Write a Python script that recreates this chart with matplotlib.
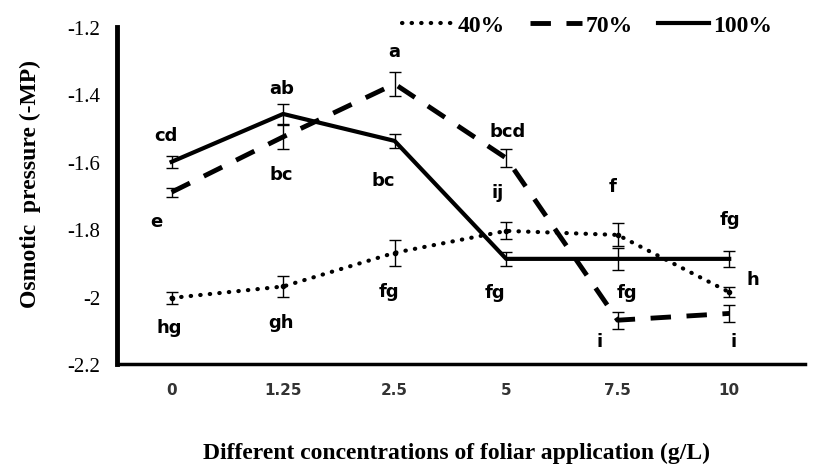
import matplotlib.pyplot as plt

# concentrations (categorical x axis)
conc = ['0', '1.25', '2.5', '5', '7.5', '10']

# osmotic pressure means and error bars
p40 = [-2.004, -1.970, -1.870, -1.805, -1.817, -1.987]
e40 = [0.018, 0.030, 0.039, 0.025, 0.034, 0.015]
p70 = [-1.690, -1.526, -1.369, -1.589, -2.070, -2.050]
e70 = [0.013, 0.035, 0.035, 0.027, 0.025, 0.024]
p100 = [-1.600, -1.458, -1.538, -1.888, -1.888, -1.888]
e100 = [0.018, 0.030, 0.020, 0.021, 0.033, 0.024]

# significance letters (text, x, y in data units)
letters = ['cd', 'e', 'ab', 'bc', 'a', 'bc', 'hg', 'gh', 'fg',
           'bcd', 'ij', 'fg', 'f', 'fg', 'i', 'fg', 'h', 'i']
let_x = [-0.05, -0.14, 0.99, 0.98, 2.0, 1.90, -0.02, 0.98, 1.95,
         3.01, 2.92, 2.90, 3.95, 4.08, 3.84, 5.01, 5.21, 5.04]
let_y = [-1.52, -1.776, -1.381, -1.636, -1.271, -1.654, -2.09, -2.075, -1.983,
         -1.509, -1.69, -1.986, -1.672, -1.986, -2.132, -1.77, -1.948, -2.132]

x = list(range(len(conc)))

fig = plt.figure(figsize=(8.14, 4.77), dpi=100)
ax = fig.add_axes([0.1437, 0.2348, 0.8453, 0.7065])

l40, = ax.plot(x, p40, color='black', lw=3, linestyle=(0, (0.1, 2.2)),
               dash_capstyle='round', zorder=3)
ax.errorbar(x, p40, yerr=e40, fmt='o', ms=3, color='black', ecolor='black',
            elinewidth=1, capsize=4, capthick=1, zorder=4)
l70, = ax.plot(x, p70, color='black', lw=3.5, linestyle=(0, (4.2, 3.2)), zorder=3)
ax.errorbar(x, p70, yerr=e70, fmt='none', ecolor='black',
            elinewidth=1, capsize=4, capthick=1, zorder=4)
l100, = ax.plot(x, p100, color='black', lw=3, zorder=3)
ax.errorbar(x, p100, yerr=e100, fmt='none', ecolor='black',
            elinewidth=1, capsize=4, capthick=1, zorder=4)

for t, lx, ly in zip(letters, let_x, let_y):
    ax.text(lx, ly, t, ha='center', va='center', fontsize=13,
            fontweight='bold', family='DejaVu Sans')

ax.set_xlim(-0.49, 5.68)
ax.set_ylim(-2.2, -1.2)
ax.set_yticks([-2.2, -2.0, -1.8, -1.6, -1.4, -1.2])
ax.set_yticklabels(['-2.2', '-2', '-1.8', '-1.6', '-1.4', '-1.2'],
                   family='Liberation Serif', fontsize=15)
ax.set_xticks(x)
ax.set_xticklabels(conc, fontsize=11, fontweight='bold', color='#333333',
                   family='DejaVu Sans')
ax.tick_params(axis='both', length=0)
ax.tick_params(axis='y', pad=12)
ax.tick_params(axis='x', pad=13)

for s in ['top', 'right']:
    ax.spines[s].set_visible(False)
ax.spines['left'].set_linewidth(3.5)
ax.spines['bottom'].set_linewidth(2.5)

fig.text(0.037, 0.615, 'Osmotic  pressure (-MP)', rotation=90, ha='center',
         va='center', fontsize=17, fontweight='bold', family='Liberation Serif')
fig.text(0.5605, 0.05, 'Different concentrations of foliar application (g/L)',
         ha='center', va='center', fontsize=17, fontweight='bold',
         family='Liberation Serif')

leg = ax.legend([l40, l70, l100], ['40%', '70%', '100%'], loc='center right',
                bbox_to_anchor=(0.952, 1.005), ncol=3, frameon=False,
                borderpad=0, borderaxespad=0,
                prop={'family': 'Liberation Serif', 'weight': 'bold', 'size': 17},
                handlelength=2.2, handletextpad=0.15, columnspacing=1.05)

fig.savefig('out.png', dpi=100)
